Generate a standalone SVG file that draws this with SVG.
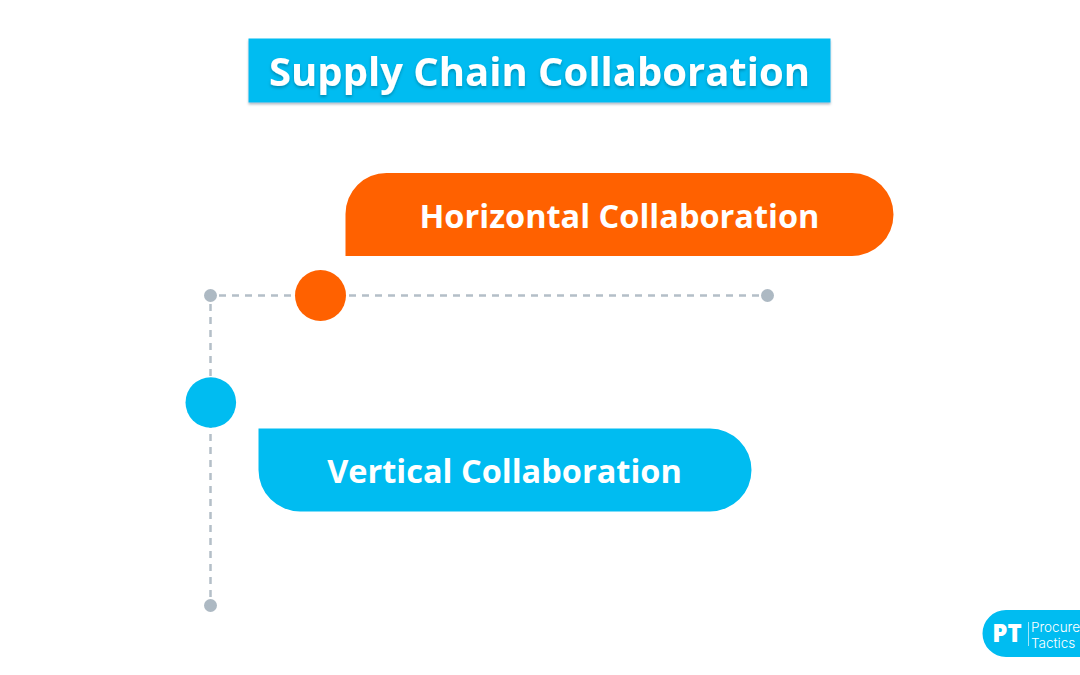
<svg xmlns="http://www.w3.org/2000/svg" width="1080" height="675" viewBox="0 0 1080 675">
<defs>
<filter id="ts" x="-5%" y="-20%" width="110%" height="150%"><feDropShadow dx="0" dy="2" stdDeviation="1.5" flood-color="#000" flood-opacity="0.25"/></filter>
<filter id="bs" x="-5%" y="-20%" width="110%" height="150%"><feDropShadow dx="0" dy="2" stdDeviation="1" flood-color="#5a7080" flood-opacity="0.45"/></filter>
</defs>
<style>
text{font-family:"Open Sans","Noto Sans",sans-serif;fill:#fff;text-anchor:middle}
.lbl{font-weight:700;font-size:32.5px}
.dash{stroke:#b4bfc8;stroke-width:2.5;stroke-dasharray:7 6;fill:none}
.end{fill:#adb9c3}
.blue{fill:#00bcf1}
.orange{fill:#ff6100}
.sm{text-anchor:start;font-family:Inter,sans-serif;font-weight:300;font-size:13.500px}
</style>
<rect width="1080" height="675" fill="#fff"/>
<g id="connectors">
<path class="dash" d="M219 295.500H760"/>
<path class="dash" d="M210.500 304V598"/>
<circle class="end" cx="210.500" cy="295.500" r="6.500"/>
<circle class="end" cx="767.500" cy="295.500" r="6.500"/>
<circle class="end" cx="210.500" cy="605.500" r="6.500"/>
</g>
<g id="title">
<rect class="blue" x="248.500" y="38.500" width="582" height="64" filter="url(#bs)"/>
<text x="539.500" y="86" font-size="40" font-weight="700" filter="url(#ts)">Supply Chain Collaboration</text>
</g>
<g id="horizontal">
<path class="orange" d="M345.500 256V214a41 41 0 0 1 41-41H852a41.500 41.500 0 0 1 0 83Z"/>
<text class="lbl" x="619.500" y="227.500">Horizontal Collaboration</text>
</g>
<g id="horizontal-dot"><circle class="orange" cx="320.500" cy="295.500" r="25.500"/></g>
<g id="vertical-dot"><circle class="blue" cx="210.800" cy="402.500" r="25.300"/></g>
<g id="vertical">
<path class="blue" d="M258.500 428.500H710a41.500 41.500 0 0 1 0 83H300a41.500 41.500 0 0 1-41.500-41.500Z"/>
<text class="lbl" x="504.500" y="482.500">Vertical Collaboration</text>
</g>
<g id="logo">
<path class="blue" d="M1080 610H1006a23.500 23.500 0 0 0 0 47H1080Z"/>
<text x="1007" y="642" font-size="24" font-weight="800">PT</text>
<path d="M1028.500 622V646" stroke="#fff" stroke-width="0.800" opacity="0.800"/>
<text class="sm" x="1031" y="632">Procure</text>
<text class="sm" x="1031" y="648">Tactics</text>
</g>
</svg>
